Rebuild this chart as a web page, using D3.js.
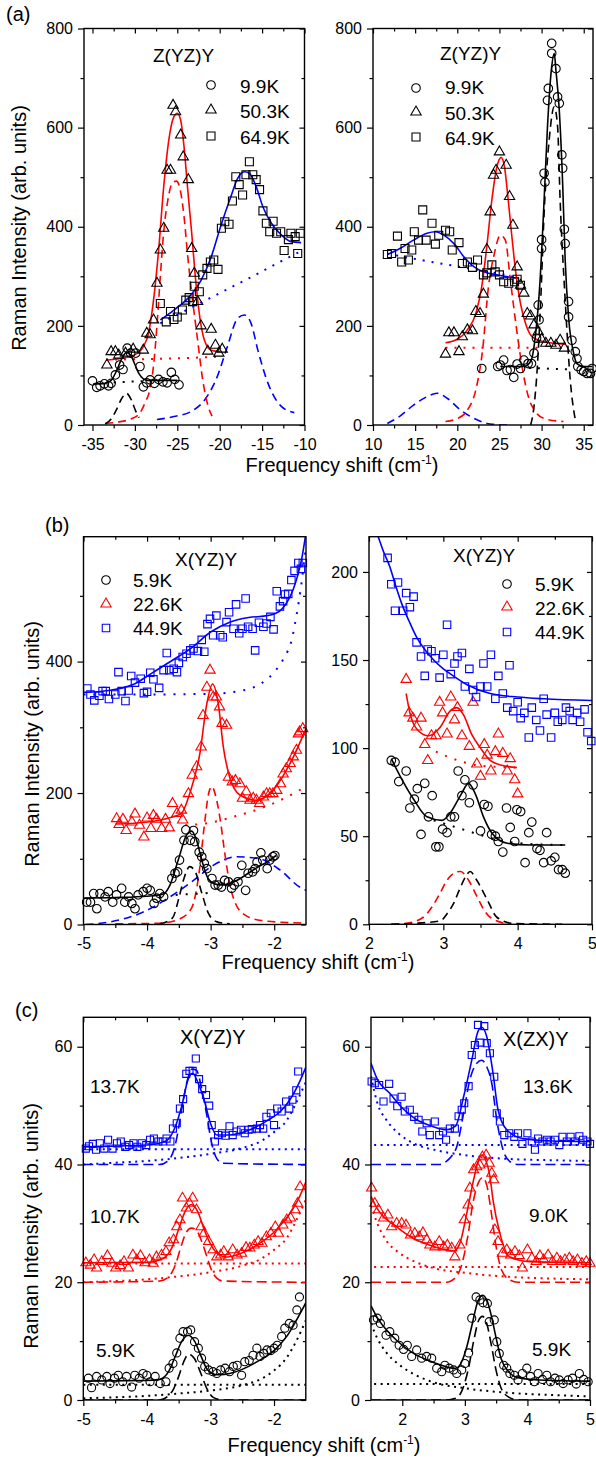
<!DOCTYPE html>
<html>
<head>
<meta charset="utf-8">
<script src="https://d3js.org/d3.v7.min.js"></script>
<style>
  body { margin: 0; background: #fff; }
  svg { font-family: "Liberation Sans", Arial, sans-serif; }
</style>
</head>
<body>
<div class="chart"></div>
<script>
// ---------- (a) left : Z(YZ)Y, anti-Stokes ----------
var aL_circ = [[-35.0,89],[-34.5,76],[-34.1,79],[-33.6,83],[-33.1,79],[-32.8,84],[-32.3,101],[-31.8,121],[-31.4,112],[-30.9,155],[-30.5,145],[-29.9,145],[-29.4,118],[-29.0,77],[-28.6,85],[-28.2,91],[-27.7,84],[-27.2,92],[-26.7,87],[-26.2,85],[-25.7,106],[-25.3,92],[-24.8,81]];
var aL_tri = [[-33.3,121],[-32.8,148],[-32.3,148],[-31.9,141],[-31.1,145],[-30.2,153],[-29.0,151],[-28.6,185],[-28.2,182],[-27.8,212],[-27.4,286],[-27.0,353],[-26.6,397],[-26.2,514],[-25.8,514],[-25.5,645],[-25.2,632],[-24.6,585],[-24.3,541],[-23.7,495],[-23.3,356],[-23.0,306],[-22.6,249],[-22.2,200],[-21.0,193],[-21.4,149],[-20.5,161],[-20.1,145],[-19.7,153]];
var aL_sq = [[-27,245],[-26.3,208],[-25.8,229],[-25.4,213],[-25,218],[-24.4,232],[-24,252],[-23.6,257],[-23.2,249],[-23,280],[-22.4,269],[-22,303],[-21.5,316],[-21.1,329],[-20.7,333],[-20.2,314],[-19.8,397],[-19.4,410],[-18.9,405],[-18.5,452],[-18.1,501],[-17.7,485],[-17.3,464],[-16.9,505],[-16.5,531],[-16.1,505],[-15.7,495],[-15.3,475],[-14.9,432],[-14.5,407],[-14.1,390],[-13.7,411],[-13.3,387],[-12.8,390],[-12.4,352],[-11.9,374],[-11.6,387],[-11.1,380],[-10.8,346],[-10.5,387]];
var aL_fitBlack = [[-34.9,83],[-33.5,84],[-32.8,90],[-32.2,108],[-31.6,132],[-31.0,146],[-30.5,141],[-30.0,122],[-29.5,103],[-29.0,93],[-28.5,90],[-27,90],[-25,90]];
var aL_dashBlack = [[-33.5,2],[-32.8,12],[-32.2,30],[-31.6,52],[-31.0,64],[-30.4,50],[-29.9,28],[-29.5,15]];
var aL_dotBlack = [[-32.5,86],[-27,90]];
var aL_fitRed = [[-33.4,131],[-31.7,134],[-30.1,141],[-29,158],[-28.4,185],[-27.8,252],[-27.2,353],[-26.6,481],[-26,575],[-25.4,622],[-25,629],[-24.6,615],[-24.2,561],[-23.8,481],[-23.3,387],[-22.8,286],[-22.3,212],[-21.8,171],[-21,151],[-19.9,148]];
var aL_dashRed = [[-33.5,3],[-32,6],[-30.5,12],[-29.5,22],[-28.8,45],[-28.2,74],[-27.8,120],[-27.4,200],[-27.0,300],[-26.6,390],[-26.1,455],[-25.6,488],[-25.1,492],[-24.6,470],[-24.2,420],[-23.8,346],[-23.2,252],[-22.6,171],[-22,91],[-21.4,40],[-20.9,18]];
var aL_dotRed = [[-33.4,132],[-26,134],[-19.9,138]];
var aL_fitBlue = [[-27,212],[-25.4,232],[-23.8,255],[-22.2,292],[-21,339],[-19.9,400],[-18.7,460],[-17.9,497],[-17.1,511],[-16.5,508],[-15.7,481],[-14.9,440],[-13.9,407],[-12.7,383],[-11.6,370],[-10.4,368]];
var aL_dashBlue = [[-27.4,11],[-25.4,17],[-23.4,27],[-21.8,50],[-20.3,97],[-19.1,158],[-17.9,215],[-17.1,222],[-16.3,205],[-15.5,151],[-14.3,84],[-12.7,37],[-11.2,25]];
var aL_dotBlue = [[-27,205],[-24,231],[-20,266],[-16,301],[-12,337],[-10.5,350]];

// ---------- (a) right : Z(YZ)Y, Stokes ----------
var aR_circ = [[22.9,114],[24.8,118],[25.1,121],[25.5,131],[25.9,110],[26.3,112],[26.7,96],[27.1,123],[27.5,114],[27.9,131],[28.4,124],[28.8,124],[29.1,145],[29.4,175],[29.6,242],[29.7,212],[30.0,374],[30.0,356],[30.3,508],[30.4,490],[30.7,655],[30.8,679],[31.2,770],[31.2,750],[31.7,719],[31.9,662],[32.1,649],[32.4,545],[32.5,518],[32.7,395],[32.8,366],[33.2,249],[33.2,218],[33.6,171],[34.0,148],[34.2,134],[34.3,118],[34.7,111],[35.0,108],[35.4,104],[35.8,104],[36.0,114]];
var aR_tri = [[18.6,143],[19.0,186],[19.6,186],[20.2,148],[20.6,178],[21.2,192],[21.8,190],[22.2,229],[22.7,225],[23.1,264],[23.5,354],[23.9,430],[24.3,504],[24.6,514],[25.0,551],[25.8,524],[26.2,461],[26.6,403],[27.1,319],[27.5,282],[27.9,266],[28.3,225],[28.7,220],[29.1,202],[29.6,188],[30.0,173],[30.5,165],[31.1,165],[31.7,161],[32.2,171],[32.7,155]];
var aR_sq = [[11.7,344],[12.2,346],[12.9,381],[13.4,329],[13.8,356],[14.2,333],[14.6,353],[14.9,390],[15.4,373],[15.9,434],[16.3,373],[17.0,407],[17.4,365],[17.8,383],[18.6,393],[19.1,390],[19.4,353],[20.2,368],[20.6,326],[21.2,329],[21.8,318],[22.4,333],[23.1,303],[23.5,307],[24.1,323],[24.5,309],[25.0,303],[25.5,289],[26.1,286],[26.8,289],[27.1,294],[27.5,282]];
var aR_fitBlack = [[25.1,118],[27.9,118],[28.7,128],[29.3,185],[29.8,286],[30.3,454],[30.7,602],[31.2,723],[31.5,750],[31.7,716],[32.1,635],[32.5,487],[32.8,333],[33.2,218],[33.8,145],[34.2,124],[35,118],[36,118]];
var aR_dashBlack = [[28.7,0],[29.1,37],[29.5,118],[29.9,252],[30.3,427],[30.9,575],[31.5,642],[31.9,602],[32.2,454],[32.8,252],[33.4,91],[34.0,10]];
var aR_dotBlack = [[28.5,115],[33.8,112]];
var aR_fitRed = [[18.6,166],[20.0,173],[21.2,192],[22.2,225],[22.9,279],[23.5,360],[24.1,454],[24.7,521],[25.2,540],[25.6,521],[26.0,461],[26.4,393],[26.9,313],[27.5,245],[28.1,205],[28.9,178],[30.3,168],[32.8,163]];
var aR_dashRed = [[18.6,7],[20,13],[21.2,30],[22.2,71],[23,151],[23.7,279],[24.4,346],[25.1,383],[25.7,373],[26.3,292],[27.1,185],[27.9,97],[28.7,44],[30.3,13],[32.6,7]];
var aR_dotRed = [[18.6,156],[30,156]];
var aR_fitBlue = [[11.7,344],[13.2,356],[14.8,373],[16.4,387],[17.4,390],[18.4,383],[19.6,366],[20.8,339],[22.0,319],[23.1,309],[24.7,303],[26.3,298],[27.3,296]];
var aR_dashBlue = [[11.7,3],[13.2,18],[14.8,40],[16.4,57],[17.6,64],[18.8,54],[20.4,30],[22.4,10],[23.9,2],[25.9,0]];
var aR_dotBlue = [[11.7,346],[15,335],[20,320],[25,305],[27.3,297]];

// ---------- (b) left : X(YZ)Y ----------
var bL_circ = [[-4.95,34],[-4.89,34],[-4.84,47],[-4.79,24],[-4.74,47],[-4.66,42],[-4.61,50],[-4.54,34],[-4.48,45],[-4.40,55],[-4.35,34],[-4.29,42],[-4.24,32],[-4.19,24],[-4.14,45],[-4.06,50],[-4.0,55],[-3.95,52],[-3.89,32],[-3.85,40],[-3.80,47],[-3.74,42],[-3.61,70],[-3.56,78],[-3.52,80],[-3.49,98],[-3.42,128],[-3.39,144],[-3.32,128],[-3.27,143],[-3.25,126],[-3.18,110],[-3.14,103],[-3.10,93],[-3.06,85],[-2.98,70],[-2.93,60],[-2.88,60],[-2.83,57],[-2.78,67],[-2.72,65],[-2.67,55],[-2.63,60],[-2.57,65],[-2.51,90],[-2.45,52],[-2.41,78],[-2.34,80],[-2.30,85],[-2.27,95],[-2.21,109],[-2.18,98],[-2.11,85],[-2.07,98],[-2.02,103],[-1.99,105]];
var bL_tri = [[-4.48,161],[-4.44,152],[-4.38,160],[-4.33,143],[-4.24,156],[-4.19,168],[-4.12,151],[-4.05,133],[-4.0,162],[-3.94,146],[-3.90,166],[-3.85,160],[-3.77,146],[-3.71,160],[-3.65,147],[-3.60,184],[-3.53,169],[-3.46,174],[-3.44,159],[-3.35,199],[-3.29,227],[-3.22,240],[-3.15,270],[-3.12,318],[-3.06,361],[-3.01,387],[-2.96,346],[-2.91,346],[-2.86,331],[-2.82,306],[-2.75,303],[-2.72,224],[-2.66,217],[-2.61,219],[-2.54,214],[-2.50,192],[-2.44,202],[-2.38,189],[-2.33,192],[-2.28,189],[-2.23,184],[-2.17,194],[-2.12,199],[-2.07,199],[-2.02,199],[-1.96,204],[-1.90,214],[-1.86,229],[-1.81,237],[-1.75,245],[-1.70,255],[-1.65,265],[-1.62,290],[-1.60,293],[-1.55,298]];
var bL_sq = [[-4.94,359],[-4.89,350],[-4.83,341],[-4.75,348],[-4.70,355],[-4.65,355],[-4.60,343],[-4.50,350],[-4.45,384],[-4.40,355],[-4.34,340],[-4.29,356],[-4.25,378],[-4.19,368],[-4.10,374],[-4.05,352],[-4.0,354],[-3.95,383],[-3.90,373],[-3.81,360],[-3.74,387],[-3.69,413],[-3.65,387],[-3.58,389],[-3.53,384],[-3.50,398],[-3.44,407],[-3.38,412],[-3.32,417],[-3.27,420],[-3.20,416],[-3.14,433],[-3.10,415],[-3.05,457],[-3.01,465],[-2.96,440],[-2.91,470],[-2.85,440],[-2.81,437],[-2.75,460],[-2.71,475],[-2.64,450],[-2.60,487],[-2.55,443],[-2.50,450],[-2.45,496],[-2.41,453],[-2.34,450],[-2.30,417],[-2.24,459],[-2.17,453],[-2.12,458],[-2.06,468],[-2.01,449],[-1.96,507],[-1.91,484],[-1.86,492],[-1.83,502],[-1.78,503],[-1.73,524],[-1.68,538],[-1.62,550],[-1.58,541],[-1.55,550]];
var bL_fitBlack = [[-5,40],[-4.5,41],[-4.0,43],[-3.75,46],[-3.64,60],[-3.51,98],[-3.38,136],[-3.3,142],[-3.22,128],[-3.14,98],[-3.04,70],[-2.91,61],[-2.8,60],[-2.59,67],[-2.33,83],[-2.07,98],[-1.97,105]];
var bL_dashBlack = [[-3.8,1],[-3.6,10],[-3.5,40],[-3.42,70],[-3.33,88],[-3.24,80],[-3.14,48],[-3.03,16],[-2.9,4],[-2.7,1]];
var bL_dotBlack = [[-3.55,45],[-3.0,48]];
var bL_fitRed = [[-4.5,153],[-4.2,154],[-3.9,157],[-3.7,161],[-3.46,169],[-3.33,199],[-3.17,260],[-3.06,336],[-2.97,366],[-2.88,336],[-2.8,270],[-2.7,224],[-2.54,197],[-2.28,189],[-2.02,204],[-1.75,245],[-1.5,298]];
var bL_dashRed = [[-4.5,1],[-3.8,2],[-3.5,8],[-3.3,25],[-3.18,80],[-3.1,150],[-3.03,200],[-2.98,210],[-2.92,195],[-2.85,160],[-2.78,110],[-2.7,62],[-2.6,30],[-2.45,14],[-2.2,6],[-1.5,2]];
var bL_dotRed = [[-3.4,151],[-3.0,155],[-2.6,165],[-2.2,177],[-1.8,194],[-1.5,210]];
var bL_fitBlue = [[-5,353],[-4.6,356],[-4.2,366],[-3.9,384],[-3.6,402],[-3.3,421],[-3.0,445],[-2.7,460],[-2.4,467],[-2.1,470],[-1.9,478],[-1.8,490],[-1.7,510],[-1.62,535],[-1.56,560],[-1.51,590]];
var bL_dashBlue = [[-4.97,0],[-4.58,4],[-4.06,19],[-3.64,42],[-3.27,67],[-2.96,90],[-2.59,103],[-2.23,100],[-1.91,83],[-1.6,57],[-1.5,52]];
var bL_dotBlue = [[-5,350],[-4,350],[-3,351],[-2.5,356],[-2.2,367],[-2.0,384],[-1.85,405],[-1.72,435],[-1.65,470],[-1.57,520],[-1.52,560],[-1.5,575]];

// ---------- (b) right : X(YZ)Y ----------
var bR_circ = [[2.30,93],[2.35,92],[2.40,81],[2.50,87],[2.55,66],[2.61,71],[2.65,77],[2.70,51],[2.75,80],[2.80,61],[2.85,73],[2.90,44],[2.94,44],[2.99,54],[3.05,52],[3.10,61],[3.15,61],[3.20,87],[3.25,73],[3.29,82],[3.35,69],[3.40,79],[3.50,53],[3.55,68],[3.60,67],[3.65,51],[3.70,50],[3.74,47],[3.80,41],[3.85,66],[3.90,55],[3.96,47],[3.99,65],[4.04,64],[4.10,35],[4.15,52],[4.19,58],[4.26,43],[4.30,42],[4.35,35],[4.39,52],[4.45,36],[4.50,38],[4.55,31],[4.60,31],[4.64,29]];
var bR_tri = [[2.50,139],[2.54,120],[2.59,117],[2.64,112],[2.70,117],[2.75,102],[2.79,93],[2.84,107],[2.90,107],[2.95,126],[2.99,120],[3.05,108],[3.10,129],[3.15,116],[3.19,123],[3.25,107],[3.35,101],[3.40,126],[3.45,91],[3.50,84],[3.55,102],[3.59,96],[3.64,87],[3.70,98],[3.74,108],[3.80,97],[3.86,87],[3.90,94],[3.96,82],[4.00,74]];
var bR_sq = [[2.25,208],[2.30,193],[2.39,194],[2.35,178],[2.46,178],[2.50,188],[2.55,180],[2.60,186],[2.64,160],[2.70,152],[2.75,141],[2.79,156],[2.84,155],[2.89,151],[2.95,140],[3.00,153],[3.05,170],[3.10,142],[3.15,148],[3.19,152],[3.25,154],[3.29,135],[3.35,145],[3.40,133],[3.44,129],[3.50,135],[3.54,148],[3.59,135],[3.64,153],[3.70,128],[3.74,141],[3.80,131],[3.86,123],[3.89,147],[3.94,121],[4.00,126],[4.04,117],[4.09,120],[4.15,106],[4.19,123],[4.25,116],[4.30,110],[4.35,128],[4.39,119],[4.45,106],[4.50,120],[4.54,115],[4.60,116],[4.65,123],[4.70,121],[4.74,116],[4.80,120],[4.84,115],[4.90,122],[4.94,109],[4.99,104]];
var bR_fitBlack = [[2.3,94],[2.42,84],[2.6,71],[2.78,61],[2.98,59],[3.09,63],[3.23,73],[3.34,80],[3.43,74],[3.54,61],[3.65,52],[3.86,46],[4.17,45],[4.64,45]];
var bR_dashBlack = [[2.3,0],[2.6,0.5],[2.96,2],[3.05,6],[3.14,12],[3.22,20],[3.3,27],[3.36,30],[3.45,25],[3.59,14],[3.72,4],[3.94,0.5],[4.6,0]];
var bR_dotBlack = [[2.87,59],[3.1,56],[3.4,52],[3.72,48],[4.2,45.5],[4.6,45]];
var bR_fitRed = [[2.5,131],[2.55,120],[2.66,110],[2.8,107],[2.96,112],[3.09,121],[3.18,123],[3.27,119],[3.38,108],[3.5,100],[3.63,93],[3.81,90],[3.99,89]];
var bR_dashRed = [[2.3,0],[2.5,0.5],[2.73,4],[2.85,10],[2.96,18],[3.05,25],[3.14,29],[3.23,30],[3.34,25],[3.45,16],[3.55,8],[3.63,4],[3.9,0]];
var bR_dotRed = [[2.9,98],[3.2,93],[3.5,90],[3.99,89]];
var bR_fitBlue = [[2.1,223],[2.2,211],[2.28,203],[2.36,192],[2.44,182],[2.54,172],[2.64,163],[2.75,156],[2.87,150],[3.0,145],[3.1,142],[3.32,136],[3.63,131],[4.0,129],[4.35,128],[5.0,127]];

// ---------- (c) left : X(YZ)Y ----------
var cL_sq = [[-4.96,42.7],[-4.91,43.1],[-4.85,43.5],[-4.80,42.5],[-4.74,43.6],[-4.67,42.7],[-4.61,44.2],[-4.54,42.7],[-4.47,43.6],[-4.41,43.9],[-4.34,43.0],[-4.28,43.3],[-4.21,43.6],[-4.15,43.0],[-4.08,43.6],[-4.01,43.3],[-3.95,44.2],[-3.89,44.4],[-3.82,43.9],[-3.75,43.9],[-3.69,44.4],[-3.63,43.9],[-3.59,46.1],[-3.53,47],[-3.48,49.5],[-3.43,51.1],[-3.38,55.4],[-3.33,55.9],[-3.28,55.9],[-3.23,58.0],[-3.18,54.5],[-3.13,52.8],[-3.07,51.8],[-3.02,50.0],[-2.98,46.7],[-2.93,43.9],[-2.88,45.0],[-2.82,45.3],[-2.76,44.9],[-2.70,46.5],[-2.65,45.0],[-2.59,45.6],[-2.52,45.9],[-2.46,45.3],[-2.40,45.9],[-2.35,46],[-2.27,46.1],[-2.22,46.7],[-2.17,46.1],[-2.12,48.1],[-2.05,48.7],[-2.0,46.7],[-1.95,49.5],[-1.88,49.0],[-1.81,50.7],[-1.76,49.5],[-1.71,51.0],[-1.65,52.6],[-1.62,55.8]];
var cL_tri = [[-4.96,23.3],[-4.89,22.9],[-4.83,23.8],[-4.79,22.4],[-4.71,23.5],[-4.62,24.5],[-4.55,23.2],[-4.49,22.4],[-4.42,22.8],[-4.36,23.5],[-4.29,22.4],[-4.22,24.6],[-4.16,23.8],[-4.10,24.5],[-4.03,23.3],[-3.96,23.8],[-3.90,23.2],[-3.85,24.3],[-3.77,24.6],[-3.70,25.2],[-3.65,26.7],[-3.58,27.2],[-3.53,29.4],[-3.48,30.6],[-3.44,34.3],[-3.38,32.6],[-3.33,33.4],[-3.28,34.3],[-3.22,32.3],[-3.15,29.4],[-3.10,28.3],[-3.03,26.9],[-2.96,25.5],[-2.90,24.3],[-2.84,24.6],[-2.79,25.2],[-2.72,24.3],[-2.65,25.5],[-2.58,24.6],[-2.51,24.9],[-2.44,25.9],[-2.38,25.8],[-2.31,26.3],[-2.25,26.9],[-2.19,26.6],[-2.12,27.7],[-2.05,28.3],[-1.98,29.4],[-1.93,28.3],[-1.86,29.7],[-1.80,30.6],[-1.74,30.9],[-1.67,32.3],[-1.63,33.4],[-1.59,36.2]];
var cL_circ = [[-4.92,3.7],[-4.87,2.1],[-4.79,4.0],[-4.71,3.4],[-4.63,4.0],[-4.58,2.8],[-4.51,3.7],[-4.45,4.2],[-4.38,3.1],[-4.32,4.0],[-4.24,2.2],[-4.19,4.2],[-4.12,3.7],[-4.06,4.5],[-4.0,4.2],[-3.95,3.1],[-3.87,4.0],[-3.79,2.8],[-3.70,3.1],[-3.65,5.4],[-3.59,6.2],[-3.53,8.0],[-3.48,10.5],[-3.43,11.6],[-3.36,11.6],[-3.31,11.9],[-3.25,9.9],[-3.19,8.8],[-3.14,7.1],[-3.09,5.7],[-3.03,5.1],[-2.96,4.8],[-2.90,4.5],[-2.84,5.1],[-2.77,5.4],[-2.70,4.8],[-2.64,5.7],[-2.58,5.9],[-2.51,4.2],[-2.46,6.5],[-2.39,6.7],[-2.33,7.6],[-2.27,8.8],[-2.22,7.4],[-2.16,7.9],[-2.11,8.5],[-2.05,8.4],[-2.0,8.8],[-1.95,9.3],[-1.88,10.8],[-1.83,12.2],[-1.76,13.0],[-1.70,12.7],[-1.64,15.3],[-1.60,17.5]];
var cL_fitBlue = [[-5,43],[-4,43.3],[-3.7,44],[-3.55,46.5],[-3.45,50],[-3.35,54.5],[-3.28,55.5],[-3.2,54],[-3.1,51],[-3.0,47],[-2.9,45],[-2.7,45],[-2.4,45.8],[-2.1,47.5],[-1.9,49],[-1.75,51],[-1.6,54],[-1.5,56.5]];
var cL_dashBlue = [[-5,40],[-3.8,40],[-3.65,40.8],[-3.55,43.5],[-3.45,49.5],[-3.37,54],[-3.29,56.2],[-3.22,56],[-3.14,53],[-3.06,48.5],[-2.98,43.6],[-2.9,41],[-2.8,40.2],[-1.5,40]];
var cL_dotBlue1 = [[-5,42.6],[-1.5,42.6]];
var cL_dotBlue2 = [[-5,40],[-4.5,40.3],[-4,40.6],[-3.5,41.1],[-3,41.8],[-2.5,42.8],[-2.2,44],[-2,45.5],[-1.8,47.5],[-1.65,50.5],[-1.5,54]];
var cL_fitRed = [[-5,23.3],[-4,23.4],[-3.75,24],[-3.6,26],[-3.5,29],[-3.4,32],[-3.3,33.2],[-3.2,32],[-3.1,29],[-3.0,26.5],[-2.9,25],[-2.75,24.3],[-2.6,24.6],[-2.4,25.5],[-2.2,26.8],[-2.0,28.5],[-1.85,30.3],[-1.7,32.5],[-1.6,34.5],[-1.5,37]];
var cL_dashRed = [[-5,20],[-3.8,20.2],[-3.65,21],[-3.55,23],[-3.45,26.5],[-3.38,28.5],[-3.3,29.2],[-3.22,28.8],[-3.14,27],[-3.06,24.5],[-2.98,22],[-2.9,20.7],[-2.8,20.2],[-1.5,20]];
var cL_dotRed1 = [[-5,23.2],[-1.5,23.2]];
var cL_dotRed2 = [[-5,20],[-4.5,20.2],[-4,20.5],[-3.5,21],[-3,21.7],[-2.5,22.8],[-2.2,24],[-2,25.5],[-1.8,27.5],[-1.65,30.5],[-1.5,34]];
var cL_fitBlack = [[-5,3.2],[-4,3.3],[-3.8,3.5],[-3.65,5],[-3.55,7.5],[-3.45,10],[-3.35,11],[-3.25,10],[-3.15,7.5],[-3.05,5.2],[-2.9,4.3],[-2.75,4.4],[-2.5,5.2],[-2.25,6.6],[-2.0,8.4],[-1.8,10.8],[-1.65,13.5],[-1.5,16.5]];
var cL_dashBlack = [[-5,0],[-3.8,0],[-3.6,1.5],[-3.5,4],[-3.42,6.5],[-3.34,7.8],[-3.25,7],[-3.15,4.5],[-3.05,1.8],[-2.95,0.4],[-2.8,0],[-1.5,0]];
var cL_dotBlack1 = [[-5,2.6],[-1.5,2.6]];
var cL_dotBlack2 = [[-5,0.3],[-4,0.7],[-3.5,1.1],[-3,1.6],[-2.5,2.5],[-2.2,3.6],[-2,5],[-1.8,7.2],[-1.65,10],[-1.5,13.5]];

// ---------- (c) right : X(ZX)Y ----------
var cR_sq = [[1.51,54.1],[1.56,53.8],[1.63,53.5],[1.70,50.7],[1.79,53.7],[1.86,51.2],[1.92,49.9],[1.99,51.5],[2.04,49.0],[2.12,49.3],[2.19,48.1],[2.26,47.6],[2.32,45.6],[2.39,47],[2.44,45],[2.52,47.3],[2.59,45],[2.65,45.6],[2.70,44.2],[2.76,46.1],[2.84,46.1],[2.90,48.2],[2.95,49.3],[2.99,50.4],[3.06,53.3],[3.11,58.6],[3.16,60.3],[3.21,63.7],[3.25,60.7],[3.31,63.5],[3.35,60.6],[3.40,58.9],[3.47,54.9],[3.51,48.7],[3.56,47.3],[3.63,45],[3.71,45.3],[3.79,44.7],[3.85,45.3],[3.92,43.5],[4.0,45.3],[4.07,43.9],[4.12,42.5],[4.17,44.4],[4.24,43.9],[4.31,44.2],[4.37,43.9],[4.44,44.2],[4.51,43.3],[4.56,44.7],[4.63,43.9],[4.69,44.7],[4.76,43.9],[4.83,44.8],[4.89,44.2],[4.96,43.9],[5.0,43.5]];
var cR_tri = [[1.51,36],[1.56,33.4],[1.62,32.3],[1.70,30.9],[1.77,31.4],[1.83,29.4],[1.91,30],[1.99,30],[2.06,29.7],[2.13,28],[2.20,28.3],[2.27,27.7],[2.33,28.4],[2.39,27.2],[2.44,26.3],[2.52,26],[2.59,26.9],[2.66,26],[2.72,26.3],[2.79,25.8],[2.84,24.3],[2.92,26.3],[2.99,30.6],[3.05,33.1],[3.08,36],[3.14,39.1],[3.19,39.6],[3.24,39.9],[3.28,41.3],[3.34,41.6],[3.39,40.2],[3.43,38.5],[3.46,37.4],[3.48,28.9],[3.53,26.9],[3.60,24.9],[3.67,25.5],[3.73,24.6],[3.80,25.2],[3.87,24.5],[3.92,22.4],[4.0,25.5],[4.07,24.1],[4.14,23.5],[4.20,24.5],[4.26,23.8],[4.33,24.6],[4.40,23.5],[4.47,24.1],[4.53,23.5],[4.60,23.8],[4.67,24.1],[4.73,23.5],[4.80,23.8],[4.87,23.2],[4.94,23.5],[5.0,23.2]];
var cR_circ = [[1.54,13.6],[1.60,13.9],[1.65,13.0],[1.74,11],[1.80,11.6],[1.88,10.5],[1.95,9.3],[2.02,8.6],[2.08,9.3],[2.15,7.4],[2.23,8.5],[2.31,7.1],[2.39,7.4],[2.47,7.1],[2.55,5.4],[2.63,4.8],[2.68,5.9],[2.75,5.4],[2.82,5.1],[2.87,4.5],[2.95,5.1],[3.0,6.2],[3.06,8.0],[3.11,13.9],[3.18,17.5],[3.24,17],[3.29,16.5],[3.36,16.4],[3.39,13.3],[3.47,13.6],[3.51,9.9],[3.55,7.9],[3.62,5.9],[3.67,5.4],[3.72,4.5],[3.79,4.2],[3.85,3.4],[3.92,4.5],[3.99,5.4],[4.05,4.0],[4.11,3.1],[4.17,4.5],[4.24,3.5],[4.31,4.2],[4.37,3.1],[4.44,3.7],[4.51,3.4],[4.57,2.8],[4.65,3.4],[4.72,3.7],[4.78,2.7],[4.83,4.5],[4.90,3.5],[4.97,3.1]];
var cR_fitBlue = [[1.5,57.2],[1.6,54.5],[1.8,52.1],[2.0,49.6],[2.23,47.6],[2.45,46.6],[2.71,45.9],[2.85,46.5],[2.98,51.5],[3.11,57.7],[3.21,62.6],[3.27,63.3],[3.35,61.7],[3.45,55.5],[3.53,49.3],[3.67,45.9],[3.93,44.4],[4.4,44],[5,43.9]];
var cR_dashBlue = [[1.5,40],[2.6,40],[2.7,40.5],[2.78,41.3],[2.87,43],[2.98,48.7],[3.08,54.4],[3.19,57.2],[3.27,57.7],[3.35,56.6],[3.43,53.8],[3.51,47.6],[3.61,42.5],[3.72,40.5],[3.85,40],[5,40]];
var cR_dotBlue1 = [[1.55,43.3],[5,43.3]];
var cR_dotBlue2 = [[1.5,55],[1.6,50.5],[1.75,47.5],[1.95,45.2],[2.2,43.5],[2.55,42.4],[3,41.6],[3.6,41],[4.5,40.7],[5,40.6]];
var cR_fitRed = [[1.5,34.6],[1.6,32.5],[1.91,29.4],[2.2,27.3],[2.44,26.3],[2.65,25.6],[2.82,25.3],[2.92,26.6],[3.03,31.7],[3.14,37.4],[3.22,40.8],[3.27,41.6],[3.33,40.8],[3.4,38],[3.45,34],[3.56,28.3],[3.72,24.3],[4.04,23.5],[5,23.3]];
var cR_dashRed = [[1.5,20],[2.7,20],[2.85,20.8],[2.95,23],[3.05,28],[3.13,33.5],[3.22,37],[3.28,37.8],[3.35,36.5],[3.42,32],[3.5,26],[3.58,22.3],[3.7,20.5],[3.85,20],[5,20]];
var cR_dotRed1 = [[1.55,22.6],[5,22.6]];
var cR_dotRed2 = [[1.5,33],[1.6,30],[1.75,27],[1.95,25],[2.2,23.5],[2.5,22.4],[3,21.6],[3.6,21],[4.5,20.6],[5,20.5]];
var cR_fitBlack = [[1.5,16],[1.6,14],[1.8,11.3],[2.0,9.3],[2.2,7.8],[2.4,6.8],[2.6,6],[2.75,5.5],[2.85,5.4],[2.95,6.5],[3.03,9],[3.12,13],[3.2,16.5],[3.28,17.8],[3.35,17],[3.43,14],[3.5,10.5],[3.58,7],[3.7,4.8],[3.85,3.8],[4.2,3.4],[5,3.2]];
var cR_dashBlack = [[1.5,0],[2.7,0],[2.85,0.3],[2.95,1.5],[3.05,5],[3.15,10.5],[3.22,13.5],[3.28,14.2],[3.35,13],[3.42,9.5],[3.5,5],[3.58,2],[3.7,0.5],[3.85,0],[5,0]];
var cR_dotBlack1 = [[1.55,2.7],[5,2.7]];
var cR_dotBlack2 = [[1.5,13],[1.6,10.5],[1.75,8],[1.95,6],[2.2,4.3],[2.5,3],[3,2],[3.6,1.3],[4.5,0.8],[5,0.6]];

// tick values
var aL_xMajor = [-35,-30,-25,-20,-15,-10], aL_xMinor = [-32.5,-27.5,-22.5,-17.5,-12.5];
var aR_xMajor = [10,15,20,25,30,35], aR_xMinor = [12.5,17.5,22.5,27.5,32.5];
var a_yMajor = [0,200,400,600,800], a_yMinor = [100,300,500,700];
var neg_xMajor = [-5,-4,-3,-2], neg_xMinor = [-4.5,-3.5,-2.5];
var pos_xMajor = [2,3,4,5], pos_xMinor = [2.5,3.5,4.5];
var bL_yMajor = [0,200,400], bL_yMinor = [100,300,500];
var bR_yMajor = [0,50,100,150,200], bR_yMinor = [25,75,125,175];
var c_yMajor = [0,20,40,60], c_yMinor = [10,30,50];

var BLACK = "#000", RED = "#ff0000", BLUE = "#0000ff";
var svg = d3.select(".chart").append("svg")
  .attr("width", 596)
  .attr("height", 1468);

var clipCount = 0;

function drawPanel(p) {
  var x = d3.scaleLinear().domain(p.xDomain).range(p.xRange);
  var y = d3.scaleLinear().domain(p.yDomain).range(p.yRange);
  var g = svg.append("g");

  clipCount++;
  var cid = "clip" + clipCount;
  svg.append("clipPath").attr("id", cid).append("rect")
    .attr("x", p.xRange[0]).attr("y", p.yRange[1])
    .attr("width", p.xRange[1] - p.xRange[0])
    .attr("height", p.yRange[0] - p.yRange[1]);

  function axis(gen, tr) {
    var a = g.append("g").attr("transform", tr).call(gen);
    a.select(".domain").remove();
    a.selectAll("line").attr("stroke-width", 1.2);
    a.selectAll("text").attr("font-size", 16).attr("font-family", "Liberation Sans, Arial, sans-serif").attr("fill", "#000");
    return a;
  }
  var fmt = function(d) { return String(d); };
  var bY = p.yRange[0], tY = p.yRange[1], lX = p.xRange[0], rX = p.xRange[1];

  axis(d3.axisBottom(x).tickValues(p.xMajor).tickSizeInner(6).tickSizeOuter(0).tickPadding(p.xPad).tickFormat(fmt), "translate(0," + bY + ")");
  axis(d3.axisBottom(x).tickValues(p.xMinor).tickSizeInner(3.5).tickSizeOuter(0).tickFormat(""), "translate(0," + bY + ")");
  axis(d3.axisTop(x).tickValues(p.xMajor).tickSizeInner(-5).tickSizeOuter(0).tickFormat(""), "translate(0," + tY + ")");
  axis(d3.axisTop(x).tickValues(p.xMinor).tickSizeInner(-3).tickSizeOuter(0).tickFormat(""), "translate(0," + tY + ")");
  axis(d3.axisLeft(y).tickValues(p.yMajor).tickSizeInner(6).tickSizeOuter(0).tickPadding(5).tickFormat(fmt), "translate(" + lX + ",0)");
  axis(d3.axisLeft(y).tickValues(p.yMinor).tickSizeInner(3.5).tickSizeOuter(0).tickFormat(""), "translate(" + lX + ",0)");
  axis(d3.axisRight(y).tickValues(p.yMajor).tickSizeInner(-5).tickSizeOuter(0).tickFormat(""), "translate(" + rX + ",0)");
  axis(d3.axisRight(y).tickValues(p.yMinor).tickSizeInner(-3).tickSizeOuter(0).tickFormat(""), "translate(" + rX + ",0)");

  var line = d3.line()
    .x(function(d) { return x(d[0]); })
    .y(function(d) { return y(d[1]); })
    .curve(d3.curveMonotoneX);

  var dashes = { solid: null, dash: p.dash, dot: p.dot };
  var curves = g.append("g").attr("clip-path", "url(#" + cid + ")");
  p.curves.forEach(function(c) {
    curves.append("path")
      .datum(c.data)
      .attr("d", line)
      .attr("fill", "none")
      .attr("stroke", c.color)
      .attr("stroke-width", c.style === "dot" ? 2 : 1.6)
      .attr("stroke-dasharray", dashes[c.style]);
  });

  p.points.forEach(function(s) {
    g.selectAll(null).data(s.data).enter().append("path")
      .attr("transform", function(d) { return "translate(" + x(d[0]) + "," + y(d[1]) + ")"; })
      .attr("d", d3.symbol().type(s.type).size(s.size))
      .attr("fill", "none")
      .attr("stroke", s.color)
      .attr("stroke-width", 1.1);
  });

  // frame
  g.append("rect")
    .attr("x", lX).attr("y", tY)
    .attr("width", rX - lX).attr("height", bY - tY)
    .attr("fill", "none").attr("stroke", "#000").attr("stroke-width", 1.4);

  (p.texts || []).forEach(function(t) {
    g.append("text").attr("x", t.x).attr("y", t.y).attr("font-size", t.size || 19).text(t.t);
  });
  (p.legend || []).forEach(function(l) {
    g.append("path")
      .attr("transform", "translate(" + l.sx + "," + l.sy + ")")
      .attr("d", d3.symbol().type(l.type).size(l.size))
      .attr("fill", "none").attr("stroke", l.color).attr("stroke-width", 1.1);
    g.append("text").attr("x", l.tx).attr("y", l.ty).attr("font-size", 19).text(l.label);
  });
}

var CIRC = d3.symbolCircle, TRI = d3.symbolTriangle, SQ = d3.symbolSquare;

// ---- (a) ----
drawPanel({
  xDomain: [-36, -10], xRange: [84, 304.5], yDomain: [0, 800], yRange: [425, 28.5],
  xMajor: aL_xMajor, xMinor: aL_xMinor, yMajor: a_yMajor, yMinor: a_yMinor, xPad: 8,
  dash: "8,5", dot: "2,7",
  curves: [
    {data: aL_dotBlue, color: BLUE, style: "dot"}, {data: aL_dashBlue, color: BLUE, style: "dash"}, {data: aL_fitBlue, color: BLUE, style: "solid"},
    {data: aL_dotRed, color: RED, style: "dot"}, {data: aL_dashRed, color: RED, style: "dash"}, {data: aL_fitRed, color: RED, style: "solid"},
    {data: aL_dotBlack, color: BLACK, style: "dot"}, {data: aL_dashBlack, color: BLACK, style: "dash"}, {data: aL_fitBlack, color: BLACK, style: "solid"}
  ],
  points: [
    {data: aL_circ, type: CIRC, size: 58, color: BLACK},
    {data: aL_tri, type: TRI, size: 46, color: BLACK},
    {data: aL_sq, type: SQ, size: 64, color: BLACK}
  ],
  texts: [{t: "Z(YZ)Y", x: 153, y: 62}],
  legend: [
    {type: CIRC, size: 58, color: BLACK, sx: 211, sy: 85, tx: 240, ty: 93, label: "9.9K"},
    {type: TRI, size: 46, color: BLACK, sx: 211, sy: 110, tx: 240, ty: 118, label: "50.3K"},
    {type: SQ, size: 64, color: BLACK, sx: 211, sy: 136, tx: 240, ty: 144, label: "64.9K"}
  ]
});
drawPanel({
  xDomain: [10, 36.1], xRange: [373, 593], yDomain: [0, 800], yRange: [425, 28.5],
  xMajor: aR_xMajor, xMinor: aR_xMinor, yMajor: a_yMajor, yMinor: a_yMinor, xPad: 8,
  dash: "8,5", dot: "2,7",
  curves: [
    {data: aR_dotBlue, color: BLUE, style: "dot"}, {data: aR_dashBlue, color: BLUE, style: "dash"}, {data: aR_fitBlue, color: BLUE, style: "solid"},
    {data: aR_dotRed, color: RED, style: "dot"}, {data: aR_dashRed, color: RED, style: "dash"}, {data: aR_fitRed, color: RED, style: "solid"},
    {data: aR_dotBlack, color: BLACK, style: "dot"}, {data: aR_dashBlack, color: BLACK, style: "dash"}, {data: aR_fitBlack, color: BLACK, style: "solid"}
  ],
  points: [
    {data: aR_circ, type: CIRC, size: 58, color: BLACK},
    {data: aR_tri, type: TRI, size: 46, color: BLACK},
    {data: aR_sq, type: SQ, size: 64, color: BLACK}
  ],
  texts: [{t: "Z(YZ)Y", x: 440, y: 60}],
  legend: [
    {type: CIRC, size: 58, color: BLACK, sx: 416, sy: 88, tx: 445, ty: 94, label: "9.9K"},
    {type: TRI, size: 46, color: BLACK, sx: 416, sy: 112, tx: 445, ty: 120, label: "50.3K"},
    {type: SQ, size: 64, color: BLACK, sx: 416, sy: 137, tx: 445, ty: 145, label: "64.9K"}
  ]
});

// ---- (b) ----
drawPanel({
  xDomain: [-5, -1.5], xRange: [83.5, 306], yDomain: [0, 590], yRange: [924.5, 536.7],
  xMajor: neg_xMajor, xMinor: neg_xMinor, yMajor: bL_yMajor, yMinor: bL_yMinor, xPad: 7,
  dash: "8,5", dot: "2,8",
  curves: [
    {data: bL_dotBlue, color: BLUE, style: "dot"}, {data: bL_dashBlue, color: BLUE, style: "dash"}, {data: bL_fitBlue, color: BLUE, style: "solid"},
    {data: bL_dotRed, color: RED, style: "dot"}, {data: bL_dashRed, color: RED, style: "dash"}, {data: bL_fitRed, color: RED, style: "solid"},
    {data: bL_dotBlack, color: BLACK, style: "dot"}, {data: bL_dashBlack, color: BLACK, style: "dash"}, {data: bL_fitBlack, color: BLACK, style: "solid"}
  ],
  points: [
    {data: bL_circ, type: CIRC, size: 58, color: BLACK},
    {data: bL_tri, type: TRI, size: 46, color: RED},
    {data: bL_sq, type: SQ, size: 56, color: BLUE}
  ],
  texts: [{t: "X(YZ)Y", x: 175, y: 566}],
  legend: [
    {type: CIRC, size: 58, color: BLACK, sx: 106, sy: 580, tx: 133, ty: 587, label: "5.9K"},
    {type: TRI, size: 46, color: RED, sx: 106, sy: 604, tx: 133, ty: 611, label: "22.6K"},
    {type: SQ, size: 56, color: BLUE, sx: 106, sy: 628, tx: 133, ty: 635, label: "44.9K"}
  ]
});
drawPanel({
  xDomain: [2, 5], xRange: [369, 592], yDomain: [0, 220], yRange: [924.3, 536.7],
  xMajor: pos_xMajor, xMinor: pos_xMinor, yMajor: bR_yMajor, yMinor: bR_yMinor, xPad: 7,
  dash: "8,5", dot: "2,8",
  curves: [
    {data: bR_fitBlue, color: BLUE, style: "solid"},
    {data: bR_dotRed, color: RED, style: "dot"}, {data: bR_dashRed, color: RED, style: "dash"}, {data: bR_fitRed, color: RED, style: "solid"},
    {data: bR_dotBlack, color: BLACK, style: "dot"}, {data: bR_dashBlack, color: BLACK, style: "dash"}, {data: bR_fitBlack, color: BLACK, style: "solid"}
  ],
  points: [
    {data: bR_circ, type: CIRC, size: 58, color: BLACK},
    {data: bR_tri, type: TRI, size: 46, color: RED},
    {data: bR_sq, type: SQ, size: 56, color: BLUE}
  ],
  texts: [{t: "X(YZ)Y", x: 453, y: 562}],
  legend: [
    {type: CIRC, size: 58, color: BLACK, sx: 507, sy: 584, tx: 535, ty: 591, label: "5.9K"},
    {type: TRI, size: 46, color: RED, sx: 507, sy: 607, tx: 535, ty: 615, label: "22.6K"},
    {type: SQ, size: 56, color: BLUE, sx: 507, sy: 632, tx: 535, ty: 639, label: "44.9K"}
  ]
});

// ---- (c) ----
drawPanel({
  xDomain: [-5, -1.5], xRange: [83.3, 305.8], yDomain: [0, 65], yRange: [1400, 1017.3],
  xMajor: neg_xMajor, xMinor: neg_xMinor, yMajor: c_yMajor, yMinor: c_yMinor, xPad: 8,
  dash: "10,5", dot: "2,4.5",
  curves: [
    {data: cL_dotBlue1, color: BLUE, style: "dot"}, {data: cL_dotBlue2, color: BLUE, style: "dot"}, {data: cL_dashBlue, color: BLUE, style: "dash"}, {data: cL_fitBlue, color: BLUE, style: "solid"},
    {data: cL_dotRed1, color: RED, style: "dot"}, {data: cL_dotRed2, color: RED, style: "dot"}, {data: cL_dashRed, color: RED, style: "dash"}, {data: cL_fitRed, color: RED, style: "solid"},
    {data: cL_dotBlack1, color: BLACK, style: "dot"}, {data: cL_dotBlack2, color: BLACK, style: "dot"}, {data: cL_dashBlack, color: BLACK, style: "dash"}, {data: cL_fitBlack, color: BLACK, style: "solid"}
  ],
  points: [
    {data: cL_circ, type: CIRC, size: 52, color: BLACK},
    {data: cL_tri, type: TRI, size: 44, color: RED},
    {data: cL_sq, type: SQ, size: 50, color: BLUE}
  ],
  texts: [
    {t: "X(YZ)Y", x: 180, y: 1044, size: 20},
    {t: "13.7K", x: 90, y: 1093}, {t: "10.7K", x: 90, y: 1223}, {t: "5.9K", x: 96, y: 1357}
  ]
});
drawPanel({
  xDomain: [1.5, 5], xRange: [371, 590], yDomain: [0, 65], yRange: [1400, 1017.3],
  xMajor: pos_xMajor, xMinor: pos_xMinor, yMajor: c_yMajor, yMinor: c_yMinor, xPad: 8,
  dash: "10,5", dot: "2,4.5",
  curves: [
    {data: cR_dotBlue1, color: BLUE, style: "dot"}, {data: cR_dotBlue2, color: BLUE, style: "dot"}, {data: cR_dashBlue, color: BLUE, style: "dash"}, {data: cR_fitBlue, color: BLUE, style: "solid"},
    {data: cR_dotRed1, color: RED, style: "dot"}, {data: cR_dotRed2, color: RED, style: "dot"}, {data: cR_dashRed, color: RED, style: "dash"}, {data: cR_fitRed, color: RED, style: "solid"},
    {data: cR_dotBlack1, color: BLACK, style: "dot"}, {data: cR_dotBlack2, color: BLACK, style: "dot"}, {data: cR_dashBlack, color: BLACK, style: "dash"}, {data: cR_fitBlack, color: BLACK, style: "solid"}
  ],
  points: [
    {data: cR_circ, type: CIRC, size: 52, color: BLACK},
    {data: cR_tri, type: TRI, size: 44, color: RED},
    {data: cR_sq, type: SQ, size: 50, color: BLUE}
  ],
  texts: [
    {t: "X(ZX)Y", x: 503, y: 1046, size: 20},
    {t: "13.6K", x: 523, y: 1093}, {t: "9.0K", x: 529, y: 1222}, {t: "5.9K", x: 532, y: 1356}
  ]
});

// axis titles and panel letters
function yTitle(cx, cy) {
  svg.append("text")
    .attr("transform", "translate(" + cx + "," + cy + ") rotate(-90)")
    .attr("text-anchor", "middle")
    .attr("font-size", 20)
    .text("Raman Intensity (arb. units)");
}
function xTitle(cx, by) {
  var t = svg.append("text").attr("x", cx).attr("y", by)
    .attr("text-anchor", "middle").attr("font-size", 20);
  t.append("tspan").text("Frequency shift (cm");
  t.append("tspan").attr("font-size", 12).attr("dy", -8).text("-1");
  t.append("tspan").attr("dy", 8).text(")");
}
yTitle(26, 228);
yTitle(39, 744);
yTitle(38, 1226);
xTitle(342, 472);
xTitle(318, 969);
xTitle(324, 1452);

svg.append("text").attr("x", 6).attr("y", 21).attr("font-size", 20).text("(a)");
svg.append("text").attr("x", 45).attr("y", 532).attr("font-size", 20).text("(b)");
svg.append("text").attr("x", 15).attr("y", 1017).attr("font-size", 20).text("(c)");
</script>
</body>
</html>
